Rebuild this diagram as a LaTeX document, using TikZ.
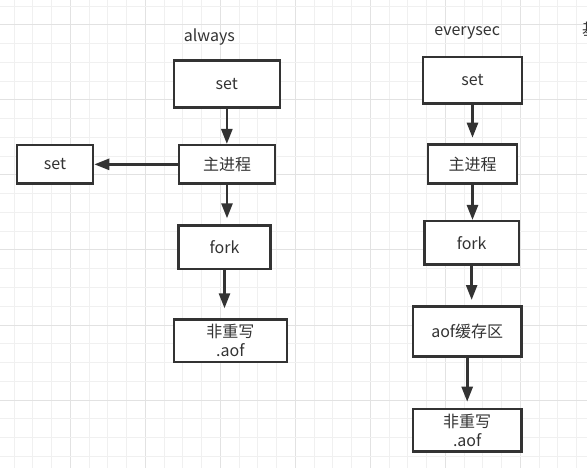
\documentclass[tikz,border=0pt]{standalone}
\usepackage{fontspec}
\setmainfont{Noto Sans CJK SC}
\usetikzlibrary{arrows.meta}
\definecolor{ink}{HTML}{333333}
\definecolor{gridminor}{HTML}{F0F0F0}
\definecolor{gridmajor}{HTML}{E2E2E2}
\tikzset{
  box/.style={draw=ink, line width=2.5pt, fill=white, text=ink, inner sep=0pt,
    align=center, font=\fontsize{16pt}{19.5pt}\selectfont},
  lbl/.style={text=ink, inner sep=0pt, anchor=base, font=\fontsize{16pt}{19.5pt}\selectfont},
  arr/.style={draw=ink, line width=2.6pt, -{Triangle[length=15pt,width=11pt]}},
}
\begin{document}
\begin{tikzpicture}[x=1pt,y=-1pt]
\useasboundingbox (0,0) rectangle (587,468);
\fill[white] (0,0) rectangle (587,468);
% grid
\foreach \i in {0,...,31}{
  \pgfmathsetmacro{\gx}{14.05+18.75*\i}
  \pgfmathtruncatemacro{\m}{mod(\i,4)}
  \ifnum\m=3 \draw[gridmajor,line width=1pt] (\gx,0) -- (\gx,468);
  \else \draw[gridminor,line width=1pt] (\gx,0) -- (\gx,468); \fi
}
\foreach \j in {0,...,25}{
  \pgfmathsetmacro{\gy}{6.25+18.75*\j}
  \pgfmathtruncatemacro{\m}{mod(\j,4)}
  \ifnum\m=1 \draw[gridmajor,line width=1pt] (0,\gy) -- (587,\gy);
  \else \draw[gridminor,line width=1pt] (0,\gy) -- (587,\gy); \fi
}
% titles
\node[lbl] (talways) at (209.3,41.7) {always};
\node[lbl] (tevery) at (467.2,36) {everysec};
\node[lbl] (tcut) at (590,36) {基};
% always column
\node[box, minimum width=105.8pt, minimum height=46.9pt] (aset) at (226.85,84) {set};
\node[box, minimum width=96.1pt, minimum height=38.2pt] (amain) at (227,164.35) {主进程};
\node[box, minimum width=76.1pt, minimum height=38.2pt] (lset) at (55,164.35) {set};
\node[box, minimum width=91.9pt, minimum height=43.2pt] (afork) at (224.5,247.15) {fork};
\node[box, minimum width=112.8pt, minimum height=42.8pt] (aaof) at (230.35,340.65) {非重写\\.aof};
% everysec column
\node[box, minimum width=99.1pt, minimum height=46.5pt] (eset) at (472.5,80.5) {set};
\node[box, minimum width=89.1pt, minimum height=39.2pt] (emain) at (472.5,164.15) {主进程};
\node[box, minimum width=94.2pt, minimum height=43.2pt] (efork) at (471.65,242.85) {fork};
\node[box, minimum width=108.5pt, minimum height=50.2pt] (ebuf) at (467.2,331.35) {aof缓存区};
\node[box, minimum width=108.5pt, minimum height=42.5pt] (eaof) at (467.2,430.2) {非重写\\.aof};
% connectors
\draw[arr] (aset.south) -- (aset.south |- amain.north);
\draw[arr] (amain.west) -- (lset.east);
\draw[arr, shorten >=6pt] (amain.south) -- (amain.south |- afork.north);
\draw[arr, shorten >=9.7pt] (afork.south) -- (afork.south |- aaof.north);
\draw[arr, shorten >=5.6pt] (eset.south) -- (eset.south |- emain.north);
\draw[arr] (emain.south) -- (emain.south |- efork.north);
\draw[arr, shorten >=5pt] (efork.south) -- (efork.south |- ebuf.north);
\draw[arr, shorten >=6pt] (ebuf.south) -- (ebuf.south |- eaof.north);
\end{tikzpicture}
\end{document}
